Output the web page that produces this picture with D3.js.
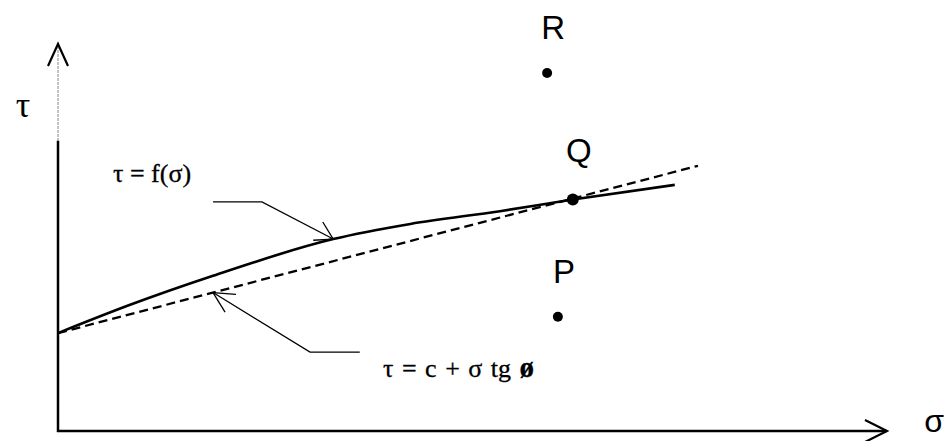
<!DOCTYPE html>
<html>
<head>
<meta charset="utf-8">
<script src="https://cdn.jsdelivr.net/npm/d3@7"></script>
<style>
  html, body { margin: 0; padding: 0; background: #fff; }
  svg { display: block; }
</style>
</head>
<body>
<svg id="chart" width="949" height="441"></svg>
<script>
// Failure envelope τ = f(σ) (curved) and its linear form τ = c + σ tg ø
const envelopeSigma = [0, 8.7, 18.7, 33.2, 42.5, 53.3, 62.1, 74.4];
const envelopeTau   = [25.3, 32.6, 40.1, 49.6, 53.5, 56.8, 59.8, 63.6];

// Linear Coulomb line: intercept c and slope tg ø, drawn from σ = 0 to σ = 77.2
const cohesion = 25.3;
const tanPhi = 0.56;
const linearSigma = [0, 77.2];

// Stress states
const pointNames = ["R", "Q", "P"];
const pointSigma = [59.0, 62.1, 60.3];
const pointTau   = [92.5, 59.8, 29.5];

// Axis titles and curve labels
const axisLabels = { x: "σ", y: "τ" };
const envelopeLabel = "τ = f(σ)";
const linearLabelParts = ["τ = c + σ tg ", "ø"];

const serif = "'Liberation Serif', 'Times New Roman', 'DejaVu Serif', serif";
const sans = "'Liberation Sans', Arial, sans-serif";

const svg = d3.select("#chart");
const x = d3.scaleLinear().domain([0, 100]).range([58, 887]);
const y = d3.scaleLinear().domain([0, 100]).range([431, 44]);

// --- axes ---
const g = svg.append("g");
// vertical axis: faint upper part, solid lower part
g.append("line")
  .attr("x1", x(0)).attr("x2", x(0))
  .attr("y1", y(100) + 2).attr("y2", y(75))
  .attr("stroke", "#9a9a9a").attr("stroke-width", 1.2)
  .attr("stroke-dasharray", "3,1");
g.append("line")
  .attr("x1", x(0)).attr("x2", x(0))
  .attr("y1", y(75)).attr("y2", y(0) + 1)
  .attr("stroke", "#000").attr("stroke-width", 2.5);
// horizontal axis
g.append("line")
  .attr("x1", x(0) - 1).attr("x2", x(100))
  .attr("y1", y(0)).attr("y2", y(0))
  .attr("stroke", "#000").attr("stroke-width", 2.5);

// open arrowheads on the axes
const chevron = d3.line();
g.append("path")
  .attr("d", chevron([[x(0) - 10, y(100) + 22], [x(0), y(100)], [x(0) + 10, y(100) + 22]]))
  .attr("fill", "none").attr("stroke", "#000").attr("stroke-width", 2.2);
g.append("path")
  .attr("d", chevron([[x(100) - 22, y(0) - 11], [x(100), y(0)], [x(100) - 22, y(0) + 11]]))
  .attr("fill", "none").attr("stroke", "#000").attr("stroke-width", 2.2);

// axis titles
svg.append("text")
  .attr("x", 23).attr("y", 117)
  .attr("text-anchor", "middle")
  .attr("font-family", serif)
  .attr("font-size", 36)
  .text(axisLabels.y);
svg.append("text")
  .attr("x", 934).attr("y", 432)
  .attr("text-anchor", "middle")
  .attr("font-family", sans)
  .attr("font-size", 32)
  .text(axisLabels.x);

// --- curves ---
const envelope = envelopeSigma.map((s, i) => [s, envelopeTau[i]]);
const curve = d3.line()
  .x(d => x(d[0])).y(d => y(d[1]))
  .curve(d3.curveMonotoneX);
svg.append("path")
  .attr("d", curve(envelope))
  .attr("fill", "none").attr("stroke", "#000").attr("stroke-width", 2.6);

const linear = linearSigma.map(s => [s, cohesion + tanPhi * s]);
svg.append("path")
  .attr("d", d3.line().x(d => x(d[0])).y(d => y(d[1]))(linear))
  .attr("fill", "none").attr("stroke", "#000").attr("stroke-width", 2.3)
  .attr("stroke-dasharray", "9,5");

// --- leader lines with open arrowheads ---
function leader(points, barbLen, spread) {
  const px = points.map(p => [x(p[0]), y(p[1])]);
  svg.append("path")
    .attr("d", d3.line()(px))
    .attr("fill", "none").attr("stroke", "#000").attr("stroke-width", 1.3);
  const tip = px[px.length - 1];
  const prev = px[px.length - 2];
  const ang = Math.atan2(prev[1] - tip[1], prev[0] - tip[0]);
  [-spread, spread].forEach(a => {
    svg.append("line")
      .attr("x1", tip[0]).attr("y1", tip[1])
      .attr("x2", tip[0] + barbLen * Math.cos(ang + a))
      .attr("y2", tip[1] + barbLen * Math.sin(ang + a))
      .attr("stroke", "#000").attr("stroke-width", 1.3);
  });
}
// to the curved envelope
const envTipSigma = 33.2;
leader([[18.7, 59.2], [24.6, 59.2], [envTipSigma, 49.6]], 20, 0.54);
// to the straight line
const linTipSigma = 18.7;
leader([[36.4, 20.4], [30.4, 20.4], [linTipSigma, cohesion + tanPhi * linTipSigma]], 23, 0.47);

// curve labels (slightly heavier strokes for a printed look)
svg.append("text")
  .attr("x", 113).attr("y", 182)
  .attr("font-family", serif)
  .attr("font-size", 26)
  .attr("stroke", "#000").attr("stroke-width", 0.3)
  .text(envelopeLabel);
const lin = svg.append("text")
  .attr("x", 383).attr("y", 377)
  .attr("font-family", serif)
  .attr("font-size", 26)
  .attr("stroke", "#000").attr("stroke-width", 0.3)
  .attr("word-spacing", 2);
lin.append("tspan").text(linearLabelParts[0]);
lin.append("tspan")
  .attr("font-size", 29).attr("font-weight", "bold")
  .text(linearLabelParts[1]);

// --- stress points ---
const pts = pointNames.map((n, i) => ({ name: n, s: pointSigma[i], t: pointTau[i] }));
svg.selectAll("circle.pt").data(pts).join("circle")
  .attr("class", "pt")
  .attr("cx", d => x(d.s)).attr("cy", d => y(d.t))
  .attr("r", d => d.name === "Q" ? 6 : 5)
  .attr("fill", "#000");
svg.selectAll("text.pt").data(pts).join("text")
  .attr("class", "pt")
  .attr("x", d => x(d.s) + 6)
  .attr("y", d => y(d.t) - (d.name === "Q" ? 38 : 34))
  .attr("text-anchor", "middle")
  .attr("font-family", sans)
  .attr("font-size", 33)
  .text(d => d.name);
</script>
</body>
</html>
